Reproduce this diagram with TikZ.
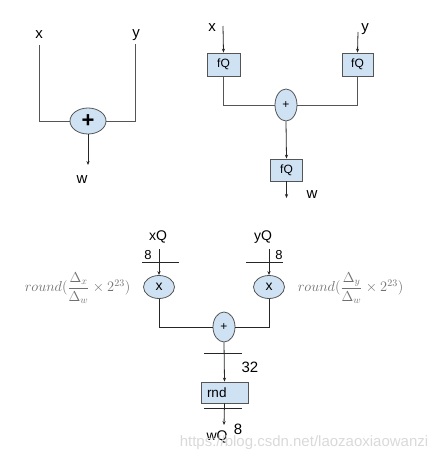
\documentclass[tikz,border=0pt]{standalone}
\usepackage{fontspec}
\setmainfont{Liberation Sans}
\usetikzlibrary{shapes.geometric,arrows.meta}
\definecolor{fillb}{HTML}{CFE2F3}
\definecolor{edge}{HTML}{555555}
\definecolor{mathgray}{HTML}{707070}
\definecolor{wm}{HTML}{D9D9D9}
\begin{document}
\begin{tikzpicture}[x=1pt,y=-1pt,
  line width=0.8pt,
  wire/.style={draw=edge},
  arr/.style={draw=black!85,-{Stealth[length=4pt,width=3.2pt]}},
  oval/.style={ellipse,draw=edge,fill=fillb,inner sep=0pt},
  blk/.style={rectangle,draw=edge,fill=fillb,inner sep=0pt},
  lbl/.style={inner sep=0pt,font=\fontsize{14}{16}\selectfont},
  num/.style={inner sep=0pt,font=\fontsize{14}{16}\selectfont},
  mlbl/.style={inner sep=0pt,text=mathgray,font=\fontsize{14.5}{17}\selectfont},
  tick/.style={draw=black!85,line width=0.7pt}]
\useasboundingbox (0,0) rectangle (445,461);

% ---------- diagram 1 ----------
\node[lbl,font=\fontsize{15}{17}\selectfont] (x1) at (39,35) {x};
\node[lbl,font=\fontsize{15}{17}\selectfont] (y1) at (136,35) {y};
\node[oval,minimum width=36,minimum height=26,font=\fontsize{22}{22}\selectfont\bfseries] (p1) at (88,121) {+};
\coordinate (x1s) at (39,45);
\coordinate (y1s) at (135,44);
\coordinate (w1e) at (88,165);
\node[lbl,font=\fontsize{15}{17}\selectfont] (w1) at (82,180) {w};
\draw[wire] (x1s) |- (p1.west);
\draw[wire] (y1s) |- (p1.east);
\draw[arr] (p1.south) -- (w1e);

% ---------- diagram 2 ----------
\node[lbl,font=\fontsize{15}{17}\selectfont] (x2) at (212,28) {x};
\node[lbl,font=\fontsize{15}{17}\selectfont] (y2) at (365,29) {y};
\node[blk,minimum width=33,minimum height=23,font=\fontsize{12}{14}\selectfont] (fq1) at (223.5,64.5) {fQ};
\node[blk,minimum width=31,minimum height=23,font=\fontsize{12}{14}\selectfont] (fq2) at (357.5,64.5) {fQ};
\node[oval,minimum width=22,minimum height=32,font=\fontsize{12}{12}\selectfont] (p2) at (286,105) {+};
\node[blk,minimum width=32,minimum height=22,font=\fontsize{12}{14}\selectfont] (fq3) at (286.5,170) {fQ};
\coordinate (x2s) at (223,26);
\coordinate (y2s) at (358,32);
\coordinate (w2e) at (286.5,198);
\node[lbl,font=\fontsize{15}{17}\selectfont] (w2) at (312,195) {w};
\draw[arr] (x2s) -- (fq1.north);
\draw[arr] (y2s) -- (fq2.north);
\draw[wire] (fq1.south) |- (p2.west);
\draw[wire] (fq2.south) |- (p2.east);
\draw[arr] (p2.south) -- (fq3.north);
\draw[arr] (fq3.south) -- (w2e);

% ---------- diagram 3 ----------
\node[lbl] (xq) at (158,237) {xQ};
\node[lbl] (yq) at (263,237) {yQ};
\node[num,font=\fontsize{13}{15}\selectfont] (n8a) at (148,255) {8};
\node[num,font=\fontsize{13}{15}\selectfont] (n8b) at (279,255) {8};
\node[oval,minimum width=31,minimum height=23,font=\fontsize{14}{14}\selectfont] (m1) at (159,287) {x};
\node[oval,minimum width=31,minimum height=23,font=\fontsize{14}{14}\selectfont] (m2) at (269,287) {x};
\node[mlbl] (r1) at (77.5,288) {$round({\displaystyle\frac{\Delta_x}{\Delta_w}}\times 2^{23})$};
\node[mlbl] (r2) at (350.5,288) {$round({\displaystyle\frac{\Delta_y}{\Delta_w}}\times 2^{23})$};
\node[oval,minimum width=22,minimum height=30,font=\fontsize{12}{12}\selectfont] (p3) at (224,327) {+};
\node[blk,minimum width=47,minimum height=21,text width=35pt,inner xsep=6pt,align=left,font=\fontsize{13.5}{15}\selectfont] (rnd) at (224.5,392.5) {rnd};
\coordinate (xq3) at (159,249);
\coordinate (yq3) at (269,249);
\coordinate (wq3) at (224,425);
\node[num,font=\fontsize{15}{17}\selectfont] (n32) at (250,367) {32};
\node[lbl] (wq) at (217,437) {wQ};
\node[num,font=\fontsize{15}{17}\selectfont] (n8c) at (238,429) {8};
\draw[arr] (xq3) -- (m1.north);
\draw[arr] (yq3) -- (m2.north);
\draw[tick] (142,262) -- (179,262);
\draw[tick] (246,262) -- (283,262);
\draw[wire,draw=black!85] (m1.south) |- (p3.west);
\draw[wire,draw=black!85] (m2.south) |- (p3.east);
\draw[arr] (p3.south) -- (rnd.north);
\draw[tick] (204,353) -- (242,353);
\draw[arr] (rnd.south) -- (wq3);
\draw[tick] (204,408) -- (242,408);

% watermark
\node[inner sep=0pt,text=wm,font=\fontsize{15}{17}\selectfont] (wmk) at (304,443) {https://blog.csdn.net/laozaoxiaowanzi};
\end{tikzpicture}
\end{document}
